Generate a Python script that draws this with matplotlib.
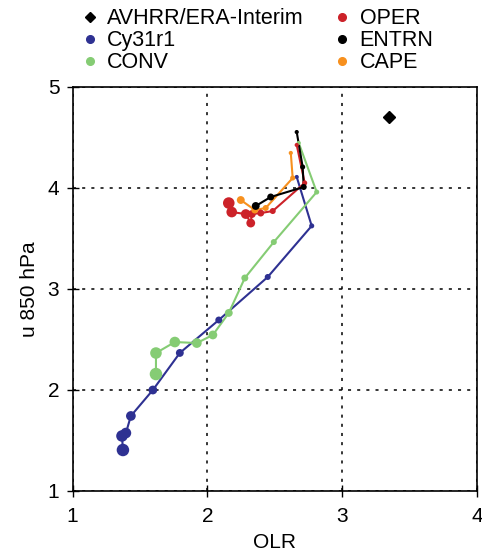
import matplotlib
matplotlib.use("Agg")
import matplotlib.pyplot as plt
from matplotlib.lines import Line2D
import numpy as np

plt.rcParams['font.family'] = ['Liberation Sans', 'DejaVu Sans']

# Observations
obs_olr = [3.344]
obs_u850 = [4.70]

# Experiments (OLR, u850)
cy31r1_olr = [2.663, 2.774, 2.448, 2.085, 1.796, 1.596, 1.433, 1.396, 1.367, 1.374]
cy31r1_u = [4.106, 3.622, 3.116, 2.690, 2.364, 1.997, 1.740, 1.571, 1.542, 1.403]

conv_olr = [2.678, 2.811, 2.493, 2.278, 2.159, 2.041, 1.922, 1.759, 1.619, 1.619]
conv_u = [4.443, 3.957, 3.462, 3.106, 2.760, 2.542, 2.462, 2.472, 2.363, 2.155]

oper_olr = [2.663, 2.722, 2.485, 2.396, 2.330, 2.322, 2.285, 2.181, 2.159]
oper_u = [4.423, 4.047, 3.769, 3.749, 3.739, 3.650, 3.739, 3.759, 3.848]

entrn_olr = [2.663, 2.707, 2.715, 2.470, 2.359]
entrn_u = [4.551, 4.205, 4.007, 3.908, 3.819]

cape_olr = [2.619, 2.633, 2.433, 2.352, 2.248]
cape_u = [4.344, 4.096, 3.799, 3.779, 3.878]

series = [
    ("Cy31r1", cy31r1_olr, cy31r1_u, "#2e3192"),
    ("CONV", conv_olr, conv_u, "#85cc74"),
    ("OPER", oper_olr, oper_u, "#cc2229"),
    ("ENTRN", entrn_olr, entrn_u, "#000000"),
    ("CAPE", cape_olr, cape_u, "#f7901e"),
]

fig = plt.figure(figsize=(4.82, 5.55), dpi=100)
ax = fig.add_axes([72.5/482, 1 - 490.7/555, (477 - 72.5)/482, (490.7 - 86.7)/555])

ax.set_xlim(1, 4)
ax.set_ylim(1, 5)
ax.set_xticks([1, 2, 3, 4])
ax.set_yticks([1, 2, 3, 4, 5])
ax.grid(True, color='black', linestyle=(0, (2, 4)), linewidth=1.1)
ax.tick_params(direction='inout', length=9, width=1, labelsize=15)
ax.tick_params(axis='x', pad=7)
ax.tick_params(axis='y', pad=5)
for sp in ax.spines.values():
    sp.set_linewidth(1.2)

sdict = {s[0]: s for s in series}
for name in ["Cy31r1", "CONV", "OPER", "CAPE", "ENTRN"]:
    _, xs, ys, c = sdict[name]
    n = len(xs)
    ax.plot(xs, ys, color=c, linewidth=1.5, zorder=3)
    ms = np.linspace(3.0, 9.0, 10)[:n]
    ax.scatter(xs, ys, s=ms**2, color=c, zorder=4, linewidths=0)

ax.plot(obs_olr, obs_u850, marker='D', color='black', markersize=6, linestyle='none', zorder=5)

ax.set_xlabel("OLR", fontsize=15, labelpad=5)
ax.set_ylabel("u 850 hPa", fontsize=15, labelpad=6)

handles = [
    Line2D([], [], marker='D', color='black', linestyle='none', markersize=5.5),
    Line2D([], [], marker='o', color=sdict["Cy31r1"][3], linestyle='none', markersize=5.5),
    Line2D([], [], marker='o', color=sdict["CONV"][3], linestyle='none', markersize=5.5),
    Line2D([], [], marker='o', color=sdict["OPER"][3], linestyle='none', markersize=5.5),
    Line2D([], [], marker='o', color=sdict["ENTRN"][3], linestyle='none', markersize=5.5),
    Line2D([], [], marker='o', color=sdict["CAPE"][3], linestyle='none', markersize=5.5),
]
labels = ["AVHRR/ERA-Interim", "Cy31r1", "CONV", "OPER", "ENTRN", "CAPE"]
fig.legend(handles, labels, ncol=2, loc='upper left', bbox_to_anchor=(79/482, 1 - 6/555),
           frameon=False, fontsize=15.5, handlelength=0.8, handletextpad=0.4,
           labelspacing=0.05, columnspacing=1.4, borderaxespad=0.0, borderpad=0.1)

fig.savefig("out.png", dpi=100)
